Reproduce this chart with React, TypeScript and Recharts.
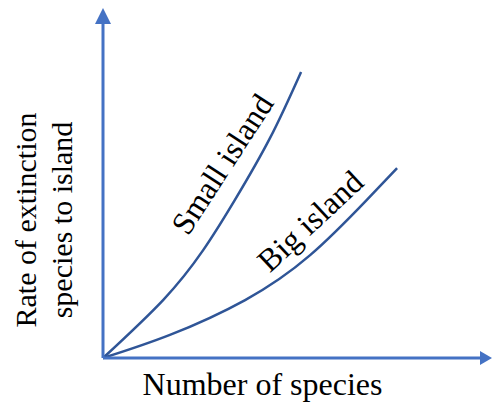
import { LineChart, Line, XAxis, YAxis, ReferenceDot } from "recharts";

// number of species (x) vs rate of extinction (y), both on a 0-100 scale
const smallIslandX = [0, 15.9, 26.5, 34.9, 44.2, 52.4];
const smallIslandY = [0, 17.3, 32.2, 47.2, 65.7, 85.4];
const bigIslandX = [0, 17.7, 37.6, 54.8, 69.8, 77.8];
const bigIslandY = [0, 6.9, 17.3, 30.7, 47.2, 56.7];

const curveLabels = [
  { text: "Small island", x: 31.5, y: 57.9, angle: -57 },
  { text: "Big island", x: 54.8, y: 40.9, angle: -43 },
];

const xTitle = "Number of species";
const yTitleLines = ["Rate of extinction", "species to island"];

const smallIsland = smallIslandX.map((x, i) => ({ x, y: smallIslandY[i] }));
const bigIsland = bigIslandX.map((x, i) => ({ x, y: bigIslandY[i] }));

const AXIS = "#4472C4";
const CURVE = "#2F5597";
const FONT = "'Liberation Serif', 'Times New Roman', serif";

export default function App() {
  return (
    <div style={{ position: "fixed", left: 0, top: 0, width: 492, height: 412, background: "#fff" }}>
      <svg width={0} height={0} style={{ position: "absolute" }}>
        <defs>
          <marker
            id="arrowY"
            markerUnits="userSpaceOnUse"
            markerWidth={16}
            markerHeight={16}
            refX={1}
            refY={8}
            orient="auto-start-reverse"
          >
            <path d="M0,0 L16,8 L0,16 z" fill={AXIS} />
          </marker>
          <marker
            id="arrowX"
            markerUnits="userSpaceOnUse"
            markerWidth={16}
            markerHeight={16}
            refX={1}
            refY={8}
            orient="auto"
          >
            <path d="M0,1 L12,8 L0,15 z" fill={AXIS} />
          </marker>
        </defs>
      </svg>
      <LineChart width={492} height={412} margin={{ top: 23, right: 11, bottom: 53, left: 102 }}>
        <XAxis
          type="number"
          dataKey="x"
          domain={[0, 100]}
          height={1}
          tick={false}
          tickLine={false}
          axisLine={{ stroke: AXIS, strokeWidth: 3, markerEnd: "url(#arrowX)" }}
          label={{
            content: (p: any) => {
              const vb = p.viewBox;
              return (
                <text
                  x={vb.x + vb.width / 2 - 29.5}
                  y={vb.y + 37}
                  textAnchor="middle"
                  fontFamily={FONT}
                  fontSize={32}
                  fill="#000"
                  style={{ fontFamily: FONT }}
                >
                  {xTitle}
                </text>
              );
            },
          }}
        />
        <YAxis
          type="number"
          dataKey="y"
          domain={[0, 100]}
          width={1}
          tick={false}
          tickLine={false}
          axisLine={{ stroke: AXIS, strokeWidth: 3, markerStart: "url(#arrowY)" }}
          label={{
            content: (p: any) => {
              const vb = p.viewBox;
              const cy = vb.y + vb.height / 2 + 29.5;
              return (
                <g>
                  {yTitleLines.map((line, i) => {
                    const bx = 36 + i * 36;
                    return (
                      <text
                        key={line}
                        x={bx}
                        y={cy}
                        transform={`rotate(-90 ${bx} ${cy})`}
                        textAnchor="middle"
                        fontFamily={FONT}
                        fontSize={30}
                        fill="#000"
                        style={{ fontFamily: FONT }}
                      >
                        {line}
                      </text>
                    );
                  })}
                </g>
              );
            },
          }}
        />
        <Line
          data={smallIsland}
          dataKey="y"
          type="natural"
          stroke={CURVE}
          strokeWidth={2.5}
          dot={false}
          isAnimationActive={false}
        />
        <Line
          data={bigIsland}
          dataKey="y"
          type="natural"
          stroke={CURVE}
          strokeWidth={2.5}
          dot={false}
          isAnimationActive={false}
        />
        {curveLabels.map((l) => (
          <ReferenceDot
            key={l.text}
            x={l.x}
            y={l.y}
            r={0}
            ifOverflow="visible"
            shape={(p: any) => (
              <text
                x={p.cx}
                y={p.cy}
                transform={`rotate(${l.angle} ${p.cx} ${p.cy})`}
                textAnchor="middle"
                dominantBaseline="central"
                fontFamily={FONT}
                fontSize={32}
                fill="#000"
                style={{ fontFamily: FONT }}
              >
                {l.text}
              </text>
            )}
          />
        ))}
      </LineChart>
    </div>
  );
}
